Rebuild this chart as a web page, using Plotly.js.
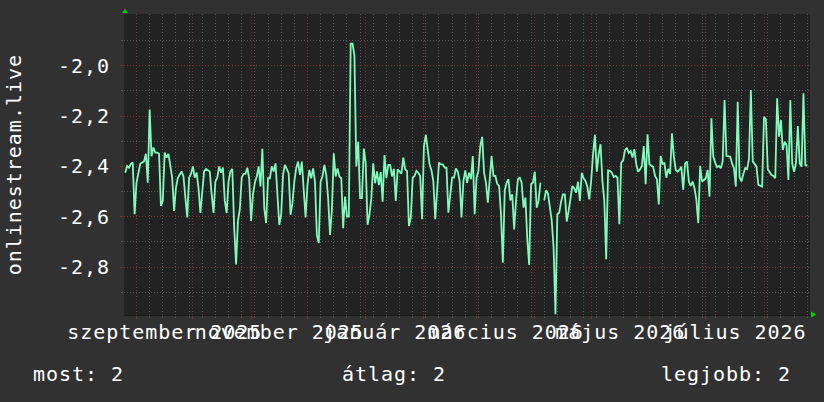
<!DOCTYPE html>
<html>
<head>
<meta charset="utf-8">
<script src="https://cdn.plot.ly/plotly-3.0.1.min.js"></script>
<style>
  html, body { margin: 0; padding: 0; background: #313131; }
  #chart { width: 824px; height: 402px; }
  text { letter-spacing: 0.96px; }
</style>
</head>
<body>
<div id="chart"></div>
<script>
// ---- data (daily values, first day = startDate) ----
const startDate = '2025-08-26';
const values = [
  -2.425,-2.398,-2.405,-2.39,-2.385,-2.59,-2.465,-2.42,-2.39,-2.385,
  -2.38,-2.35,-2.465,-2.174,-2.36,-2.325,-2.345,-2.345,-2.35,-2.557,
  -2.537,-2.345,-2.365,-2.35,-2.39,-2.445,-2.577,-2.485,-2.445,-2.43,
  -2.42,-2.44,-2.51,-2.603,-2.445,-2.43,-2.4,-2.445,-2.425,-2.485,
  -2.585,-2.51,-2.42,-2.41,-2.415,-2.42,-2.51,-2.585,-2.46,-2.445,
  -2.4,-2.425,-2.405,-2.537,-2.585,-2.46,-2.42,-2.41,-2.643,-2.789,
  -2.617,-2.57,-2.445,-2.43,-2.43,-2.405,-2.45,-2.617,-2.51,-2.465,
  -2.44,-2.4,-2.48,-2.33,-2.566,-2.625,-2.447,-2.447,-2.40,-2.42,
  -2.388,-2.50,-2.632,-2.592,-2.434,-2.394,-2.414,-2.427,-2.592,-2.546,
  -2.46,-2.408,-2.381,-2.434,-2.381,-2.50,-2.603,-2.474,-2.414,-2.447,
  -2.408,-2.46,-2.672,-2.704,-2.46,-2.44,-2.394,-2.434,-2.526,-2.672,
  -2.573,-2.348,-2.44,-2.408,-2.44,-2.447,-2.645,-2.52,-2.599,-2.599,
  -1.913,-1.913,-1.96,-2.40,-2.302,-2.526,-2.526,-2.329,-2.388,-2.632,
  -2.592,-2.526,-2.388,-2.467,-2.42,-2.474,-2.423,-2.54,-2.355,-2.447,
  -2.394,-2.394,-2.44,-2.41,-2.537,-2.412,-2.421,-2.429,-2.365,-2.412,
  -2.418,-2.637,-2.603,-2.445,-2.438,-2.418,-2.425,-2.438,-2.61,-2.319,
  -2.275,-2.339,-2.392,-2.416,-2.458,-2.61,-2.498,-2.385,-2.392,-2.392,
  -2.405,-2.405,-2.584,-2.498,-2.445,-2.445,-2.408,-2.421,-2.458,-2.603,
  -2.458,-2.416,-2.465,-2.425,-2.451,-2.359,-2.59,-2.445,-2.418,-2.319,
  -2.283,-2.425,-2.465,-2.544,-2.458,-2.359,-2.438,-2.438,-2.469,-2.478,
  -2.59,-2.782,-2.495,-2.465,-2.451,-2.535,-2.511,-2.65,-2.537,-2.451,
  -2.445,-2.465,-2.564,-2.524,-2.689,-2.791,-2.471,-2.465,-2.421,-2.564,
  -2.537,-2.465,null,-2.535,-2.495,-2.508,-2.57,-2.614,-2.722,-2.987,
  -2.59,-2.584,-2.54,-2.511,-2.511,-2.619,-2.577,-2.531,-2.478,-2.487,
  -2.504,-2.461,-2.537,-2.425,-2.447,-2.458,-2.482,-2.531,-2.458,-2.352,
  -2.275,-2.421,-2.352,-2.312,-2.458,-2.537,-2.769,-2.416,-2.418,-2.425,
  -2.442,-2.438,-2.445,-2.63,-2.385,-2.376,-2.336,-2.326,-2.346,-2.339,
  -2.365,-2.332,-2.392,-2.421,-2.412,-2.398,-2.319,-2.471,-2.273,-2.392,
  -2.398,-2.402,-2.438,-2.451,-2.551,-2.359,-2.392,-2.385,-2.445,-2.41,
  -2.43,-2.269,-2.361,-2.414,-2.421,-2.414,-2.401,-2.493,-2.388,-2.381,
  -2.46,-2.477,-2.46,-2.487,-2.533,-2.625,-2.398,-2.46,-2.454,-2.447,
  -2.414,-2.52,-2.209,-2.361,-2.385,-2.403,-2.398,-2.407,-2.381,-2.137,
  -2.359,-2.359,-2.361,-2.388,-2.407,-2.48,-2.143,-2.443,-2.46,-2.43,
  -2.407,-2.411,-2.37,-2.097,-2.381,-2.39,-2.401,-2.473,-2.477,-2.48,
  -2.203,-2.213,-2.411,-2.421,-2.434,-2.438,-2.447,-2.13,-2.282,-2.216,
  -2.335,-2.302,-2.315,-2.454,-2.137,-2.388,-2.421,-2.388,-2.24,-2.388,
  -2.401,-2.11,-2.394,-2.398
];

// ---- axes / labels ----
const xRange = ['2025-08-25 08:24', '2026-08-25 11:30'];
const xLabelDates = ['2025-09-16', '2025-11-16', '2026-01-16 12:00', '2026-03-16 12:00', '2026-05-16 12:00', '2026-07-16 12:00'];
const xLabels = ['szeptember 2025', 'november 2025', 'január 2026', 'március 2026', 'május 2026', 'július 2026'];
const yRange = [-2.99, -1.795];
const yTickVals = [-2.8, -2.6, -2.4, -2.2, -2.0];
const yTickText = ['-2,8', '-2,6', '-2,4', '-2,2', '-2,0'];
const yMinorVals = [-2.9, -2.7, -2.5, -2.3, -2.1, -1.9];
const yTitle = 'onlinestream.live';
const legendItems = ['most: 2', 'átlag: 2', 'legjobb: 2'];

// dates for each daily value
const dayMs = 86400000;
const t0 = Date.parse(startDate + 'T00:00:00Z');
const dates = values.map((_, i) => new Date(t0 + i * dayMs).toISOString().slice(0, 10));

const FONT = 'DejaVu Sans Mono, monospace';
const MAJOR = '#7a3333';
const MINOR = '#545454';
const DOTS = '1px,2px';

const traces = [
  {
    x: dates, y: values, type: 'scatter', mode: 'lines',
    line: { color: '#7dfcbc', width: 1.8 },
    connectgaps: false, hoverinfo: 'skip'
  },
  { x: [], y: [], xaxis: 'x2', yaxis: 'y', type: 'scatter', mode: 'lines', hoverinfo: 'skip' }
];

const layout = {
  width: 824, height: 402,
  paper_bgcolor: '#313131', plot_bgcolor: '#222222',
  margin: { l: 124, r: 14, t: 14, b: 87, pad: 0 },
  showlegend: false,
  font: { family: FONT, size: 20, color: '#ffffff' },
  xaxis: {
    type: 'date', range: xRange, tickmode: 'linear', tick0: '2025-09-01', dtick: 'M1',
    showticklabels: false, showgrid: true, gridcolor: MAJOR, griddash: DOTS, gridwidth: 1,
    ticks: 'outside', ticklen: 3, tickcolor: MAJOR, zeroline: false,
    showline: true, linecolor: '#1b1b1b', linewidth: 1,
    minor: { tickmode: 'linear', tick0: '2025-09-01', dtick: 7 * dayMs, showgrid: true,
             gridcolor: MINOR, griddash: DOTS, gridwidth: 1, ticks: 'outside', ticklen: 2, tickcolor: MINOR }
  },
  xaxis2: {
    type: 'date', range: xRange, overlaying: 'x', anchor: 'y', side: 'bottom',
    tickmode: 'array', tickvals: xLabelDates, ticktext: xLabels, tickangle: 0,
    showgrid: false, ticks: '', zeroline: false, showline: false, ticklabelstandoff: 3,
    tickfont: { family: FONT, size: 20, color: '#ffffff' }
  },
  yaxis: {
    range: yRange, tickmode: 'array', tickvals: yTickVals, ticktext: yTickText,
    showgrid: true, gridcolor: MAJOR, griddash: DOTS, gridwidth: 1,
    ticks: 'outside', ticklen: 3, tickcolor: MAJOR, ticklabelstandoff: 6,
    zeroline: false, showline: false,
    tickfont: { family: FONT, size: 20, color: '#ffffff' },
    minor: { tickmode: 'array', tickvals: yMinorVals, showgrid: true,
             gridcolor: MINOR, griddash: DOTS, gridwidth: 1, ticks: 'outside', ticklen: 2, tickcolor: MINOR }
  },
  shapes: [
    { type: 'path', xref: 'paper', yref: 'paper', path: 'M -0.0029,1.0033 L 0.0058,1.0033 L 0.0015,1.0166 Z',
      fillcolor: '#00d000', line: { width: 0 } },
    { type: 'path', xref: 'paper', yref: 'paper', path: 'M 1.0015,0.0116 L 1.0015,-0.0083 L 1.0095,0.0017 Z',
      fillcolor: '#00d000', line: { width: 0 } }
  ],
  annotations: [
    { text: yTitle, textangle: -90, xref: 'paper', yref: 'paper', x: -0.1603, y: 0.498,
      xanchor: 'center', yanchor: 'middle', showarrow: false, font: { family: FONT, size: 20, color: '#ffffff' } },
    { text: legendItems[0], xref: 'paper', yref: 'paper', x: -0.1356, y: -0.196,
      xanchor: 'left', yanchor: 'middle', showarrow: false, font: { family: FONT, size: 20, color: '#ffffff' } },
    { text: legendItems[1], xref: 'paper', yref: 'paper', x: 0.3149, y: -0.196,
      xanchor: 'left', yanchor: 'middle', showarrow: false, font: { family: FONT, size: 20, color: '#ffffff' } },
    { text: legendItems[2], xref: 'paper', yref: 'paper', x: 0.9752, y: -0.196,
      xanchor: 'right', yanchor: 'middle', showarrow: false, font: { family: FONT, size: 20, color: '#ffffff' } }
  ]
};

Plotly.newPlot('chart', traces, layout, { staticPlot: true, displayModeBar: false });
</script>
</body>
</html>
